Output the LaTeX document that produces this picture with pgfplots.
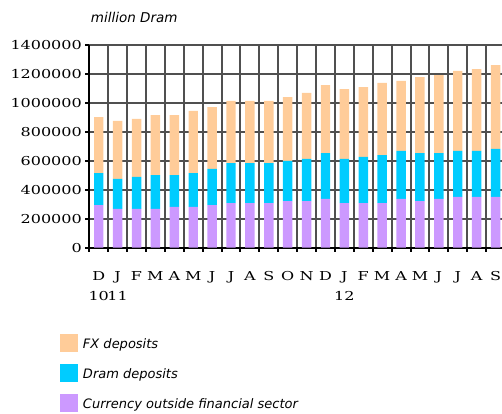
\documentclass[border=0pt]{standalone}
\usepackage{pgfplots}
\pgfplotsset{compat=1.18}
\usepackage{fontspec}
\setmainfont{DejaVu Sans}
\newfontfamily\tickfont[FakeStretch=1.3]{DejaVu Serif}
\definecolor{fx}{HTML}{FFCC99}
\definecolor{dram}{HTML}{00CCFF}
\definecolor{cur}{HTML}{CC99FF}
\definecolor{gridc}{HTML}{505050}
\pgfplotsset{sqlegend/.style={legend image code/.code={\fill[##1,draw=none] (0bp,-7.7bp) rectangle (18bp,10.3bp);}}}
\begin{document}
\begin{tikzpicture}
\begin{axis}[
  at={(0,0)}, anchor=south west,
  scale only axis, width=415.7bp, height=203bp,
  xmin=-0.5, xmax=21.5, ymin=0, ymax=1400000,
  stack plots=y,
  axis x line*=bottom, axis y line*=left,
  x axis line style={-, black, line width=2bp},
  y axis line style={-, black, line width=2bp},
  scaled y ticks=false,
  ytick={0,200000,400000,600000,800000,1000000,1200000,1400000},
  yticklabels={0,200000,400000,600000,800000,1000000,1200000,1400000},
  yticklabel style={font=\tickfont\fontsize{12.3bp}{14bp}\selectfont},
  xtick={0,...,21},
  xticklabels={{D\\10},{J\\11},F,M,A,M,J,J,A,S,O,N,D,{J\\12},F,M,A,M,J,J,A,S},
  xticklabel style={font=\tickfont\fontsize{12.3bp}{20bp}\selectfont, align=center, anchor=north, yshift=-16bp},
  minor xtick={-0.5,0.5,...,21.5},
  ymajorgrids=true, xminorgrids=true,
  grid style={gridc, line width=2bp},
  tick align=outside,
  major tick length=4bp, minor tick length=4bp,
  tick style={black, line width=2bp},
  major x tick style={line width=0pt, draw opacity=0},
  reverse legend,
  legend style={at={(axis description cs:-0.0705,-0.4251)}, anchor=north west,
    draw=none, fill=none, inner sep=0pt, outer sep=0pt,
    font=\itshape\fontsize{13bp}{15bp}\selectfont,
    nodes={inner sep=0pt}, row sep=12bp,
    /tikz/every odd column/.append style={column sep=5bp}},
  legend cell align=left,
]
\addplot[ybar stacked, bar width=0.5, fill=cur, draw=none, sqlegend] coordinates {
(0,294000) (1,267000) (2,267000) (3,267000) (4,281000) (5,281000) (6,294000) (7,308000)
(8,308000) (9,308000) (10,322000) (11,322000) (12,336000) (13,308000) (14,308000) (15,308000)
(16,336000) (17,322000) (18,336000) (19,350000) (20,350000) (21,350000)};
\addlegendentry{Currency outside financial sector}
\addplot[ybar stacked, bar width=0.5, fill=dram, draw=none, sqlegend] coordinates {
(0,221000) (1,207000) (2,221000) (3,234000) (4,220000) (5,234000) (6,249000) (7,276000)
(8,276000) (9,276000) (10,276000) (11,290000) (12,317000) (13,304000) (14,318000) (15,331000)
(16,331000) (17,331000) (18,317000) (19,317000) (20,317000) (21,331000)};
\addlegendentry{Dram deposits}
\addplot[ybar stacked, bar width=0.5, fill=fx, draw=none, sqlegend] coordinates {
(0,386000) (1,400000) (2,400000) (3,414000) (4,414000) (5,428000) (6,427000) (7,428000)
(8,428000) (9,428000) (10,441000) (11,455000) (12,469000) (13,482000) (14,482000) (15,497000)
(16,483000) (17,524000) (18,538000) (19,552000) (20,565000) (21,579000)};
\addlegendentry{FX deposits}
\end{axis}
\node[anchor=west, font=\itshape\fontsize{13.5bp}{15bp}\selectfont, inner sep=0pt] at (1.4bp,230.7bp) {million Dram};
\pgfresetboundingbox
\path[use as bounding box] (-89.3bp,-166.3bp) rectangle (412.7bp,247.7bp);
\end{tikzpicture}
\end{document}
